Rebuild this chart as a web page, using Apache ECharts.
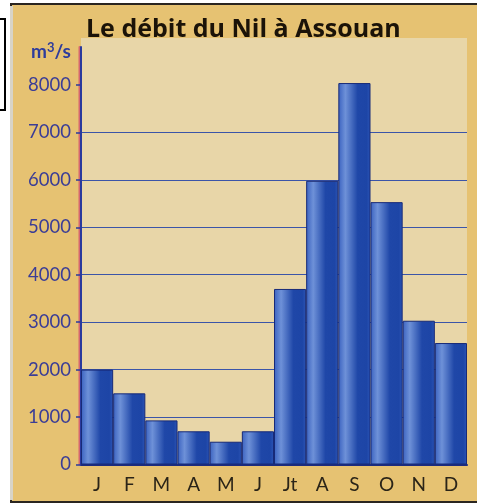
<!DOCTYPE html>
<html>
<head>
<meta charset="utf-8">
<script src="https://cdn.jsdelivr.net/npm/echarts@6/dist/echarts.min.js"></script>
<style>
html,body{margin:0;padding:0;background:#fff;}
#c{width:477px;height:504px;}
</style>
</head>
<body>
<div id="c"></div>
<script>
const categories = ['J','F','M','A','M','J','Jt','A','S','O','N','D'];
const debit = [2000, 1500, 930, 700, 480, 700, 3700, 5980, 8040, 5530, 3030, 2560];
const yTicks = [0, 1000, 2000, 3000, 4000, 5000, 6000, 7000, 8000];
const titleText = 'Le débit du Nil à Assouan';
const unitText = 'm{sup|3}/s';

const chart = echarts.init(document.getElementById('c'), null, {renderer:'canvas'});
chart.setOption({
  backgroundColor: '#ffffff',
  animation: false,
  graphic: [
    {type:'rect', z:-10, shape:{x:11, y:4, width:470, height:498}, style:{fill:'#e6c272', stroke:'#2a2520', lineWidth:2}},
    {type:'rect', z:-9, shape:{x:10, y:6, width:3, height:494}, style:{fill:'#d8d4c8'}},
    {type:'rect', z:-9, shape:{x:81, y:38, width:386, height:10}, style:{fill:'#e8d6a8'}},
    {type:'rect', z:-9, shape:{x:-2, y:19, width:7, height:91}, style:{fill:'none', stroke:'#000', lineWidth:2}}
  ],
  title: [
    {text: titleText, left: 81, top: 12, textStyle:{fontFamily:'Open Sans', fontWeight:'bold', fontSize:25, color:'#1b1308'}},
    {text: unitText, left: 26, top: 36, textStyle:{fontFamily:'Lato', fontWeight:'bold', fontSize:19, color:'#2e3c9c',
      rich:{sup:{fontFamily:'Lato', fontWeight:'bold', fontSize:13, color:'#2e3c9c', verticalAlign:'top', padding:[0,0,8,0]}}}}
  ],
  grid: {left:81, right:10, top:47, bottom:39.5, show:true, backgroundColor:'#e8d6a8', borderWidth:0},
  xAxis: {
    type:'category', data: categories,
    axisLine:{show:true, lineStyle:{color:'#1c2c80', width:2}},
    axisTick:{show:false},
    axisLabel:{color:'#2a2418', fontFamily:'Lato', fontSize:19, margin:11},
    splitLine:{show:false}
  },
  yAxis: {
    type:'value', min:0, max:8800, interval:1000,
    axisLine:{show:true, lineStyle:{color:'#2a3a9e', width:2, shadowColor:'rgba(210,80,110,0.8)', shadowOffsetX:-1.5}},
    axisTick:{show:true, length:5, customValues: yTicks, lineStyle:{color:'#2a3a9e', width:1.5}},
    axisLabel:{color:'#3b3d96', fontFamily:'Lato', fontSize:18.5, margin:10, customValues: yTicks, formatter: v => String(v)},
    splitLine:{show:true, showMinLine:false, showMaxLine:false, lineStyle:{color:'#3b55a8', width:1}}
  },
  series: [{
    type:'bar', data: debit, barCategoryGap:'0%',
    itemStyle:{
      borderColor:'#172a78', borderWidth:1,
      color: new echarts.graphic.LinearGradient(0,0,1,0,[
        {offset:0, color:'#3a62c0'},
        {offset:0.22, color:'#6e91d8'},
        {offset:0.6, color:'#1f47a8'},
        {offset:0.88, color:'#1d45a6'},
        {offset:1, color:'#2c55b6'}
      ])
    }
  }]
});
</script>
</body>
</html>
